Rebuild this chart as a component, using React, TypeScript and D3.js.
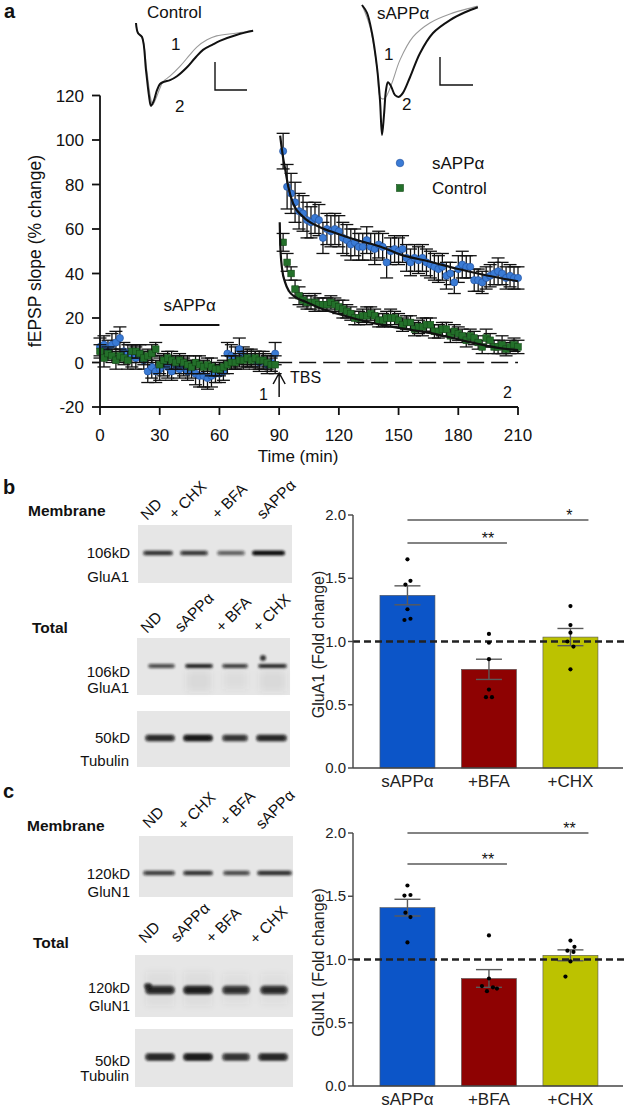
import React from 'react';
import * as d3 from 'd3';

const FONT = '"Liberation Sans", Arial, Helvetica, sans-serif';

// ---------- Panel a : fEPSP slope time course ----------
const baselineTime = [0,2,4,6,8,10,12,14,16,18,20,22,24,26,28,30,32,34,36,38,40,42,44,46,48,50,52,54,56,58,60,62,64,66,68,70,72,74,76,78,80,82,84,86,88];
const sappBaseline = [7,8,6,8,9,11,5,4,3,2,4,1,-4,-2,-4,-3,-1,-2,-4,-1,-3,-2,-4,-3,-5,-6,-6,-7,-6,-5,-5,-4,4,3,2,6,3,2,2,1,0,1,-1,0,4];
const sappBaselineSe = [4,4,4,5,5,5,4,4,5,5,4,4,5,5,5,5,5,5,4,4,4,4,4,4,5,5,5,5,5,4,4,4,5,5,5,5,4,4,4,4,4,4,4,4,5];
const ctrlBaseline = [5,2,4,3,1,3,2,1,5,5,4,2,3,4,6,-1,1,2,1,0,1,0,-1,-2,0,-1,-2,-1,-2,-3,-3,-2,-1,0,0,1,1,2,1,2,1,1,0,-1,-1];
const ctrlBaselineSe = [3,4,3,3,4,3,3,4,3,3,4,3,3,4,3,4,3,3,4,3,3,3,4,3,3,4,3,3,4,3,3,3,4,3,3,3,4,3,3,3,4,3,3,3,4];

const postTime = [92,94,96,98,100,102,104,106,108,110,112,114,116,118,120,122,124,126,128,130,132,134,136,138,140,142,144,146,148,150,152,154,156,158,160,162,164,166,168,170,172,174,176,178,180,182,184,186,188,190,192,194,196,198,200,202,204,206,208,210];
const sappPost = [95,79,76,72,68,67,64,63,65,64,56,60,59,60,59,56,55,53,54,52,52,55,52,51,53,52,45,50,51,50,51,47,45,47,46,47,45,44,43,42,43,39,40,36,42,44,43,43,37,37,36,38,39,40,41,40,38,39,38,38];
const sappPostSe = [8,10,9,9,8,8,8,7,7,7,7,7,7,7,7,7,7,7,6,6,6,6,6,7,6,6,7,6,6,6,6,6,6,6,6,6,6,6,6,6,6,6,5,5,6,6,5,5,5,5,5,5,5,5,6,5,5,5,5,5];
const ctrlPost = [54,45,40,33,30,28,27,27,27,26,26,26,27,26,25,24,23,22,20,20,21,21,22,21,19,19,20,20,20,19,17,18,18,15,16,16,17,17,14,14,15,15,12,14,13,12,10,12,11,9,7,11,10,7,7,8,6,7,8,7];
const ctrlPostSe = [4,4,3,4,4,3,3,3,4,3,3,3,3,3,3,4,3,3,3,3,3,4,3,3,3,3,3,4,3,3,3,3,3,3,3,4,3,3,3,3,3,3,3,3,3,3,3,3,3,3,3,4,3,3,3,4,3,3,3,3];

// fitted decay curves: [time, value]
const sappFit: [number, number][] = [[90.5,102],[92,92],[93,87],[94.6,79],[97,71.5],[102,65.5],[110.5,60.8],[119,58],[129,55],[141,52],[151,48.5],[165,45.5],[180,42],[195,39],[210,36.5]];
const ctrlFit: [number, number][] = [[90.3,63],[90.6,52],[91.5,42],[93,36],[95,32],[98,29.5],[104,27],[110,24.6],[119,22],[130,19.2],[144,16.4],[156,14.7],[168,12.9],[184,9.5],[200,6.6],[210,5.6]];

const xTicksA = [0,30,60,90,120,150,180,210];
const yTicksA = [-20,0,20,40,60,80,100,120];

// example traces [ms, mV]
const ctrlTrace1: [number, number][] = [[0,0],[0.31,-0.18],[0.94,-0.25],[1.7,-0.86],[2.3,-1.35],[2.6,-1.46],[3.0,-1.38],[3.75,-1.16],[4.2,-1.05],[5.3,-0.95],[6.9,-0.77],[8.4,-0.57],[9.5,-0.43],[11.1,-0.3],[12.6,-0.23],[15.8,-0.18],[18.3,-0.13]];
const ctrlTrace2: [number, number][] = [[0,0],[0.31,-0.18],[0.94,-0.25],[1.56,-0.84],[2.03,-1.3],[2.34,-1.48],[2.81,-1.38],[3.28,-1.2],[3.75,-1.09],[4.38,-1.05],[5.31,-1.02],[6.4,-0.95],[7.97,-0.79],[9.2,-0.63],[10.47,-0.48],[11.9,-0.39],[13.1,-0.32],[15.8,-0.21],[18.3,-0.14]];
const sappTrace1: [number, number][] = [[0,0],[1.25,-0.39],[2.34,-1.11],[2.81,-1.64],[3.28,-1.68],[3.75,-1.64],[4.69,-1.39],[5.94,-0.98],[7.97,-0.57],[10.6,-0.32],[13.75,-0.16],[18.1,-0.02]];
const sappTrace2: [number, number][] = [[0,0],[0.78,-0.14],[1.56,-0.5],[2.34,-1.11],[2.81,-1.7],[3.13,-2.32],[3.44,-1.96],[3.75,-1.52],[4.06,-1.38],[4.53,-1.45],[5.16,-1.61],[5.78,-1.64],[6.4,-1.57],[7.5,-1.29],[9.06,-0.86],[11.1,-0.5],[13.75,-0.27],[16.1,-0.13],[18.1,-0.04]];

// ---------- Panels b, c : bar charts ----------
const barCats = ['sAPPα', '+BFA', '+CHX'];
const barColors = ['#0c55c8', '#8e0202', '#bcc200'];
const yTicksBar = [0, 0.5, 1.0, 1.5, 2.0];
const gluA1Mean = [1.365, 0.78, 1.035];
const gluA1Sem = [0.075, 0.08, 0.068];
const gluA1Dots = [[1.65,1.48,1.45,1.255,1.17,1.18],[1.06,0.99,0.86,0.62,0.56,0.56],[1.28,1.13,1.07,1.0,0.96,0.78]];
const gluN1Mean = [1.41, 0.85, 1.033];
const gluN1Sem = [0.066, 0.07, 0.043];
const gluN1Dots = [[1.585,1.51,1.505,1.37,1.335,1.135],[1.19,0.85,0.79,0.75,0.78,0.77],[1.15,1.10,1.07,1.06,0.985,0.865]];

// ---------- Western blot lanes (relative band intensity) ----------
const memLanesB = ['ND', '+ CHX', '+ BFA', 'sAPPα'];
const totLanesB = ['ND', 'sAPPα', '+ BFA', '+ CHX'];
const bMemInt = [0.72, 0.7, 0.5, 0.97];
const bTotInt = [0.6, 0.8, 0.66, 0.75];
const bTubInt = [0.78, 0.9, 0.72, 0.8];
const cMemInt = [0.66, 0.72, 0.6, 0.74];
const cTotInt = [0.8, 0.86, 0.74, 0.78];
const cTubInt = [0.8, 0.88, 0.72, 0.8];

function Blot({ x, y, w, h, bandY, bandH, lanes, ints, extra }: any) {
  return (
    <g>
      <rect x={x} y={y} width={w} height={h} fill="#e6e6e6" />
      {extra}
      {lanes.map((l: number[], i: number) => (
        <g key={i} filter="url(#bandBlur)">
          <rect x={l[0]} y={bandY - bandH / 2} width={l[1] - l[0]} height={bandH} rx={bandH / 2}
            fill={`rgba(25,25,25,${ints[i]})`} />
          <rect x={l[0] + 3} y={bandY - bandH / 4} width={l[1] - l[0] - 6} height={bandH / 2} rx={bandH / 4}
            fill={`rgba(10,10,10,${ints[i] * 0.6})`} />
        </g>
      ))}
    </g>
  );
}

function LaneLabels({ pts, labels }: any) {
  return (
    <g fontFamily={FONT} fontSize={15.5} fill="#111">
      {labels.map((t: string, i: number) => (
        <text key={i} transform={`translate(${pts[i][0]},${pts[i][1]}) rotate(-45)`}>{t}</text>
      ))}
    </g>
  );
}

function BarChart({ top, means, sems, dots, jitter, label, sig }: any) {
  const y = d3.scaleLinear().domain([0, 2]).range([top + 253, top]);
  const x = d3.scaleBand<string>().domain(barCats).range([355.5, 622.4]).paddingInner(0.325).paddingOuter(0.3);
  const bw = x.bandwidth();
  return (
    <g fontFamily={FONT}>
      {barCats.map((c, i) => (
        <rect key={c} x={x(c)} y={y(means[i])} width={bw} height={y(0) - y(means[i])} fill={barColors[i]} stroke="#555" strokeWidth={0.6} />
      ))}
      {barCats.map((c, i) => {
        const cx = (x(c) as number) + bw / 2;
        return (
          <g key={c} stroke="#5a5a5a" strokeWidth={1.4}>
            <line x1={cx} x2={cx} y1={y(means[i] - sems[i])} y2={y(means[i] + sems[i])} />
            <line x1={cx - 13} x2={cx + 13} y1={y(means[i] + sems[i])} y2={y(means[i] + sems[i])} />
            <line x1={cx - 13} x2={cx + 13} y1={y(means[i] - sems[i])} y2={y(means[i] - sems[i])} />
          </g>
        );
      })}
      <line x1={353} x2={626} y1={y(1)} y2={y(1)} stroke="#222" strokeWidth={2.4} strokeDasharray="7 4" />
      {barCats.map((c, i) => {
        const cx = (x(c) as number) + bw / 2;
        return dots[i].map((v: number, j: number) => (
          <circle key={c + j} cx={cx + jitter[i][j]} cy={y(v)} r={2.1} fill="#000" />
        ));
      })}
      {/* axes */}
      <line x1={353} x2={353} y1={y(2)} y2={y(0)} stroke="#444" strokeWidth={1.4} />
      <line x1={353} x2={623} y1={y(0)} y2={y(0)} stroke="#444" strokeWidth={1.4} />
      {yTicksBar.map(t => (
        <g key={t}>
          <line x1={348} x2={353} y1={y(t)} y2={y(t)} stroke="#444" strokeWidth={1.4} />
          <text x={346} y={y(t) + 5} fontSize={15} textAnchor="end" fill="#222">{t.toFixed(1)}</text>
        </g>
      ))}
      {barCats.map(c => (
        <text key={c} x={(x(c) as number) + bw / 2} y={y(0) + 19} fontSize={17} textAnchor="middle" fill="#222">{c}</text>
      ))}
      <text transform={`translate(324,${y(1) + 3}) rotate(-90)`} fontSize={16} textAnchor="middle" fill="#222">{label}</text>
      {sig.map((s: any, k: number) => {
        const x1 = (x(barCats[0]) as number) + bw / 2;
        const x2 = (x(barCats[s.to]) as number) + bw / 2 + 18;
        return (
          <g key={k}>
            <line x1={x1} x2={x2} y1={s.y} y2={s.y} stroke="#5a5a5a" strokeWidth={1.5} />
            <text x={x2 - 19} y={s.y + 1} fontSize={16} textAnchor="middle" fill="#111">{s.t}</text>
          </g>
        );
      })}
    </g>
  );
}

export default function App() {
  const xA = d3.scaleLinear().domain([0, 210]).range([100, 518]);
  const yA = d3.scaleLinear().domain([-20, 120]).range([407, 95.5]);
  const fitLine = d3.line<[number, number]>().x(d => xA(d[0])).y(d => yA(d[1])).curve(d3.curveMonotoneX);

  const trX1 = d3.scaleLinear().domain([0, 5]).range([136, 168]);
  const trX2 = d3.scaleLinear().domain([0, 5]).range([362, 394]);
  const trY1 = d3.scaleLinear().domain([0, -0.5]).range([23, 51]);
  const trY2 = d3.scaleLinear().domain([0, -0.5]).range([5, 33]);
  const tl1 = d3.line<[number, number]>().x(d => trX1(d[0])).y(d => trY1(d[1])).curve(d3.curveCatmullRom);
  const tl2 = d3.line<[number, number]>().x(d => trX2(d[0])).y(d => trY2(d[1])).curve(d3.curveCatmullRom);

  const errBars = (times: number[], vals: number[], se: number[], key: string) =>
    times.map((t, i) => (
      <g key={key + i} stroke="#111" strokeWidth={1.3}>
        <line x1={xA(t)} x2={xA(t)} y1={yA(vals[i] - se[i])} y2={yA(vals[i] + se[i])} />
        <line x1={xA(t) - 6.5} x2={xA(t) + 6.5} y1={yA(vals[i] + se[i])} y2={yA(vals[i] + se[i])} />
        <line x1={xA(t) - 6.5} x2={xA(t) + 6.5} y1={yA(vals[i] - se[i])} y2={yA(vals[i] - se[i])} />
      </g>
    ));
  const circles = (times: number[], vals: number[], key: string) =>
    times.map((t, i) => <circle key={key + i} cx={xA(t)} cy={yA(vals[i])} r={3.6} fill="#3a7bd5" stroke="#1f4e9c" strokeWidth={0.6} />);
  const squares = (times: number[], vals: number[], key: string) =>
    times.map((t, i) => <rect key={key + i} x={xA(t) - 3.3} y={yA(vals[i]) - 3.3} width={6.6} height={6.6} fill="#23702a" stroke="#144a18" strokeWidth={0.6} />);

  return (
    <svg width={627} height={1111} style={{ position: 'absolute', left: 0, top: 0, background: '#fff' }} fontFamily={FONT}>
      <defs>
        <filter id="bandBlur" x="-30%" y="-150%" width="160%" height="400%">
          <feGaussianBlur stdDeviation="1.3 1.1" />
        </filter>
        <filter id="smearBlur" x="-30%" y="-30%" width="160%" height="160%">
          <feGaussianBlur stdDeviation="3" />
        </filter>
      </defs>
      <rect width={627} height={1111} fill="#fff" />

      {/* ---------- Panel a ---------- */}
      <text x={4} y={18} fontSize={20} fontWeight="bold" fill="#111">a</text>
      {/* traces */}
      <text x={147} y={18} fontSize={17} fill="#111">Control</text>
      <path d={tl1(ctrlTrace1) || ''} fill="none" stroke="#999" strokeWidth={1.1} />
      <path d={tl1(ctrlTrace2) || ''} fill="none" stroke="#111" strokeWidth={2} />
      <text x={171} y={50} fontSize={17} fill="#111">1</text>
      <text x={175} y={112} fontSize={17} fill="#111">2</text>
      <path d="M215,62 V90 H247" fill="none" stroke="#111" strokeWidth={1.4} />

      <text x={377} y={19} fontSize={17} fill="#111">sAPPα</text>
      <path d={tl2(sappTrace1) || ''} fill="none" stroke="#999" strokeWidth={1.1} />
      <path d={tl2(sappTrace2) || ''} fill="none" stroke="#111" strokeWidth={2} />
      <text x={384} y={60} fontSize={17} fill="#111">1</text>
      <text x={402} y={110} fontSize={17} fill="#111">2</text>
      <path d="M440,57 V85 H473" fill="none" stroke="#111" strokeWidth={1.4} />

      {/* zero dashed line */}
      <line x1={xA(88)} x2={xA(210)} y1={yA(0)} y2={yA(0)} stroke="#111" strokeWidth={1.5} strokeDasharray="17 7" />

      {errBars(baselineTime, sappBaseline, sappBaselineSe, 'eb1')}
      {errBars(postTime, sappPost, sappPostSe, 'eb2')}
      {circles(baselineTime, sappBaseline, 'c1')}
      {circles(postTime, sappPost, 'c2')}
      {errBars(baselineTime, ctrlBaseline, ctrlBaselineSe, 'eg1')}
      {errBars(postTime, ctrlPost, ctrlPostSe, 'eg2')}
      {squares(baselineTime, ctrlBaseline, 's1')}
      {squares(postTime, ctrlPost, 's2')}
      <path d={fitLine(sappFit) || ''} fill="none" stroke="#111" strokeWidth={2.2} />
      <path d={fitLine(ctrlFit) || ''} fill="none" stroke="#111" strokeWidth={2.2} />

      {/* sAPPα application bar */}
      <line x1={xA(30)} x2={xA(60)} y1={325} y2={325} stroke="#111" strokeWidth={2} />
      <text x={xA(45)} y={311} fontSize={17} textAnchor="middle" fill="#111">sAPPα</text>
      {/* TBS arrow */}
      <path d={`M${xA(90)},397 V373 M${xA(90) - 6},384 L${xA(90)},373 L${xA(90) + 6},384`} fill="none" stroke="#111" strokeWidth={1.5} />
      <text x={290} y={383} fontSize={16} fill="#111">TBS</text>
      <text x={259} y={400} fontSize={16} fill="#111">1</text>
      <text x={503} y={398} fontSize={16} fill="#111">2</text>

      {/* legend */}
      <circle cx={400} cy={163} r={3.8} fill="#3a7bd5" stroke="#1f4e9c" strokeWidth={0.6} />
      <text x={432} y={169} fontSize={17} fill="#111">sAPPα</text>
      <rect x={396.5} y={184.5} width={7} height={7} fill="#23702a" stroke="#144a18" strokeWidth={0.6} />
      <text x={432} y={194} fontSize={17} fill="#111">Control</text>

      {/* axes */}
      <line x1={100} x2={100} y1={yA(120)} y2={yA(-20)} stroke="#111" strokeWidth={1.8} />
      <line x1={100} x2={518} y1={yA(-20)} y2={yA(-20)} stroke="#111" strokeWidth={1.8} />
      {yTicksA.map(t => (
        <g key={t}>
          <line x1={92} x2={100} y1={yA(t)} y2={yA(t)} stroke="#111" strokeWidth={1.8} />
          <text x={84} y={yA(t) + 6} fontSize={17} textAnchor="end" fill="#111">{t}</text>
        </g>
      ))}
      {xTicksA.map(t => (
        <g key={t}>
          <line x1={xA(t)} x2={xA(t)} y1={407} y2={415} stroke="#111" strokeWidth={1.8} />
          <text x={xA(t)} y={441} fontSize={17} textAnchor="middle" fill="#111">{t}</text>
        </g>
      ))}
      <text x={298} y={462} fontSize={17} textAnchor="middle" fill="#111">Time (min)</text>
      <text transform="translate(41,251) rotate(-90)" fontSize={17.5} textAnchor="middle" fill="#111">fEPSP slope (% change)</text>

      {/* ---------- Panel b ---------- */}
      <text x={3} y={494} fontSize={20} fontWeight="bold" fill="#111">b</text>
      <text x={28} y={516} fontSize={15.5} fontWeight="bold" fill="#111">Membrane</text>
      <LaneLabels labels={memLanesB} pts={[[147, 521], [175, 520], [218, 520], [263, 520]]} />
      <Blot x={138} y={525} w={154} h={58} bandY={553} bandH={5}
        lanes={[[143, 173], [180, 208], [217, 245], [252, 285]]} ints={bMemInt} />
      <g fontSize={15} textAnchor="end" fill="#111">
        <text x={130} y={558}>106kD</text>
        <text x={129} y={582}>GluA1</text>
      </g>
      <text x={32} y={633} fontSize={15.5} fontWeight="bold" fill="#111">Total</text>
      <LaneLabels labels={totLanesB} pts={[[147, 634], [181, 633], [222, 633], [259, 633]]} />
      <Blot x={137} y={638} w={153} h={57} bandY={666} bandH={4.5}
        lanes={[[148, 175], [185, 213], [222, 248], [258, 287]]} ints={bTotInt}
        extra={<g>
          <g filter="url(#smearBlur)">
            <rect x={187} y={671} width={24} height={20} fill="rgba(80,80,80,0.09)" />
            <rect x={224} y={671} width={23} height={18} fill="rgba(80,80,80,0.07)" />
            <rect x={260} y={671} width={25} height={20} fill="rgba(80,80,80,0.09)" />
          </g>
          <g filter="url(#bandBlur)"><circle cx={263} cy={658} r={3} fill="rgba(20,20,20,0.8)" /></g>
        </g>} />
      <g fontSize={15} textAnchor="end" fill="#111">
        <text x={130} y={677}>106kD</text>
        <text x={129} y={693}>GluA1</text>
      </g>
      <Blot x={137} y={711} w={153} h={56} bandY={738} bandH={7}
        lanes={[[145, 175], [183, 213], [222, 248], [256, 287]]} ints={bTubInt} />
      <g fontSize={15} textAnchor="end" fill="#111">
        <text x={130} y={743}>50kD</text>
        <text x={129} y={766}>Tubulin</text>
      </g>

      <BarChart top={515} means={gluA1Mean} sems={gluA1Sem} dots={gluA1Dots}
        jitter={[[0, 3, -2, 0, -3, 3], [0, 0, 0, 0, -3, 3], [0, 0, 0, -3, 3, 0]]}
        label="GluA1 (Fold change)"
        sig={[{ y: 520, to: 2, t: '*' }, { y: 543, to: 1, t: '**' }]} />

      {/* ---------- Panel c ---------- */}
      <text x={3} y={798} fontSize={20} fontWeight="bold" fill="#111">c</text>
      <text x={27} y={831} fontSize={15.5} fontWeight="bold" fill="#111">Membrane</text>
      <LaneLabels labels={memLanesB} pts={[[149, 829], [184, 831], [226, 827], [262, 830]]} />
      <Blot x={139} y={836} w={154} h={61} bandY={873} bandH={5}
        lanes={[[143, 175], [183, 213], [223, 250], [257, 292]]} ints={cMemInt} />
      <g fontSize={15} textAnchor="end" fill="#111">
        <text x={130} y={879}>120kD</text>
        <text x={130} y={897}>GluN1</text>
      </g>
      <text x={33} y={948} fontSize={15.5} fontWeight="bold" fill="#111">Total</text>
      <LaneLabels labels={totLanesB} pts={[[145, 944], [177, 943], [212, 944], [256, 945]]} />
      <Blot x={135} y={955} w={158} h={62} bandY={990} bandH={9}
        lanes={[[145, 175], [183, 213], [222, 250], [260, 288]]} ints={cTotInt}
        extra={<g filter="url(#smearBlur)">
          <rect x={146} y={972} width={28} height={34} fill="rgba(80,80,80,0.06)" />
          <rect x={184} y={972} width={28} height={34} fill="rgba(80,80,80,0.06)" />
          <rect x={223} y={974} width={26} height={30} fill="rgba(80,80,80,0.05)" />
          <rect x={261} y={974} width={26} height={30} fill="rgba(80,80,80,0.05)" />
        </g>} />
      <g filter="url(#bandBlur)"><ellipse cx={148} cy={986} rx={4} ry={3} fill="rgba(10,10,10,0.8)" /></g>
      <g fontSize={14.5} textAnchor="end" fill="#111">
        <text x={130} y={993}>120kD</text>
        <text x={130} y={1011}>GluN1</text>
      </g>
      <Blot x={135} y={1029} w={158} h={58} bandY={1057} bandH={8}
        lanes={[[145, 175], [183, 213], [222, 250], [258, 288]]} ints={cTubInt} />
      <g fontSize={15} textAnchor="end" fill="#111">
        <text x={130} y={1066}>50kD</text>
        <text x={129} y={1081}>Tubulin</text>
      </g>

      <BarChart top={833} means={gluN1Mean} sems={gluN1Sem} dots={gluN1Dots}
        jitter={[[0, 3, -3, -2, 3, 0], [0, 0, -7, -2, 4, 8], [0, 4, -3, 3, 0, -5]]}
        label="GluN1 (Fold change)"
        sig={[{ y: 833, to: 2, t: '**' }, { y: 864, to: 1, t: '**' }]} />
    </svg>
  );
}
